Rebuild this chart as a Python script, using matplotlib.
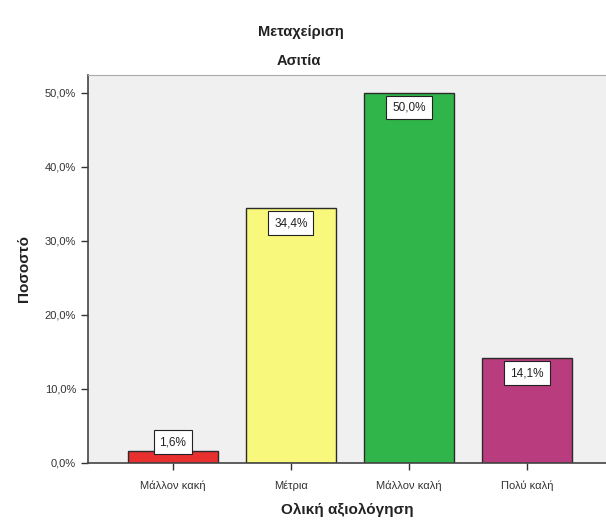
import matplotlib
matplotlib.use("Agg")
import matplotlib.pyplot as plt
from matplotlib.ticker import FuncFormatter

categories = ["Μάλλον κακή", "Μέτρια", "Μάλλον καλή", "Πολύ καλή"]
percentages = [1.6, 34.4, 50.0, 14.1]
bar_colors = ["#E8302F", "#F8F87C", "#30B54A", "#B93C7E"]

plt.rcParams["font.family"] = ["Liberation Sans", "DejaVu Sans"]

fig = plt.figure(figsize=(6.06, 5.32), dpi=100)
ax = fig.add_axes([0.145, 0.13, 0.855, 0.729])
ax.set_facecolor("#F0F0F0")

x = list(range(len(categories)))
ax.bar(x, percentages, width=0.76, color=bar_colors, edgecolor="#2b2b2b", linewidth=1.0, zorder=2)

# value labels in white boxes near the top of each bar
for xi, v in zip(x, percentages):
    y = max(v - 2.0, 2.8)
    ax.text(xi, y, f"{v:.1f}%".replace(".", ","), ha="center", va="center", fontsize=8.5,
            color="#222222", zorder=3,
            bbox=dict(boxstyle="square,pad=0.5", facecolor="white", edgecolor="#222222", linewidth=0.8))

ax.set_xlim(-0.72, 3.67)
ax.set_ylim(0, 52.4)
ax.set_yticks([0, 10, 20, 30, 40, 50])
ax.yaxis.set_major_formatter(FuncFormatter(lambda v, _: f"{v:.1f}%".replace(".", ",")))
ax.set_xticks(x)
ax.set_xticklabels(categories)
ax.tick_params(axis="both", labelsize=8, colors="#333333", length=5, width=1)
ax.tick_params(axis="x", pad=8)

for side in ["left", "bottom"]:
    ax.spines[side].set_color("#444444")
    ax.spines[side].set_linewidth(1.2)
ax.spines["top"].set_color("#aaaaaa")
ax.spines["top"].set_linewidth(0.8)
ax.spines["right"].set_visible(False)

ax.set_ylabel("Ποσοστό", fontsize=11, fontweight="bold", color="#222222", labelpad=10)
ax.set_xlabel("Ολική αξιολόγηση", fontsize=11, fontweight="bold", color="#222222", labelpad=8)

fig.text(0.497, 0.94, "Μεταχείριση", ha="center", va="center", fontsize=10.5, fontweight="bold", color="#222222")
fig.text(0.493, 0.886, "Ασιτία", ha="center", va="center", fontsize=10.5, fontweight="bold", color="#222222")

fig.savefig("out.png", dpi=100)
